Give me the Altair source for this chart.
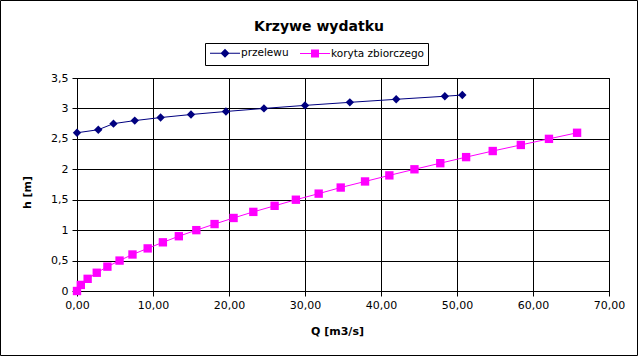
import altair as alt
import pandas as pd

FONT = "DejaVu Sans"

series_names = ["przelewu", "koryta zbiorczego"]
series_colors = ["#000080", "#ff00ff"]
series_shapes = ["diamond", "square"]
legend_paths = [
    "M-3,-0.1H3V0.1H-3ZM0,-0.9L0.9,0L0,0.9L-0.9,0Z",
    "M-3,-0.1H3V0.1H-3ZM-0.8,-0.8H0.8V0.8H-0.8Z",
]

q_przelewu = [0.0, 2.8, 4.8, 7.6, 11.0, 15.0, 19.6, 24.6, 30.0, 35.9, 42.0, 48.4, 50.7]
h_przelewu = [2.60, 2.65, 2.75, 2.80, 2.85, 2.90, 2.95, 3.00, 3.05, 3.10, 3.15, 3.20, 3.22]

q_koryta = [0.0, 0.5, 1.4, 2.6, 4.0, 5.6, 7.3, 9.3, 11.3, 13.4, 15.7, 18.1, 20.6, 23.2,
            26.0, 28.8, 31.8, 34.7, 37.9, 41.1, 44.4, 47.8, 51.2, 54.7, 58.4, 62.1, 65.8]
h_koryta = [0.0, 0.1, 0.2, 0.3, 0.4, 0.5, 0.6, 0.7, 0.8, 0.9, 1.0, 1.1, 1.2, 1.3,
            1.4, 1.5, 1.6, 1.7, 1.8, 1.9, 2.0, 2.1, 2.2, 2.3, 2.4, 2.5, 2.6]

x_ticks = [0, 10, 20, 30, 40, 50, 60, 70]
y_ticks = [0, 0.5, 1, 1.5, 2, 2.5, 3, 3.5]

rows = []
for q, h in zip(q_przelewu, h_przelewu):
    rows.append({"series": series_names[0], "Q": q, "h": h,
                 "col": series_colors[0], "shp": series_shapes[0]})
for q, h in zip(q_koryta, h_koryta):
    rows.append({"series": series_names[1], "Q": q, "h": h,
                 "col": series_colors[1], "shp": series_shapes[1]})
df = pd.DataFrame(rows)

x_enc = alt.X(
    "Q:Q",
    scale=alt.Scale(domain=[0, 70], nice=False, zero=False),
    axis=alt.Axis(
        values=x_ticks,
        labelExpr="replace(format(datum.value, '.2f'), '.', ',')",
        labelFlush=False,
        title="Q [m3/s]",
        titleX=260, titleY=40, titleBaseline="middle",
        labelPadding=3,
    ),
)
y_enc = alt.Y(
    "h:Q",
    scale=alt.Scale(domain=[0, 3.5], nice=False, zero=False),
    axis=alt.Axis(
        values=y_ticks,
        labelExpr="replace(format(datum.value, '.1~f'), '.', ',')",
        labelFlush=False,
        title="h [m]",
        titleX=-50, titleY=114, titleAngle=270, titleBaseline="middle",
        titleAlign="center",
        labelPadding=4,
    ),
)


def make_legend():
    return alt.Legend(
        title=None,
        orient="none",
        legendX=128, legendY=-35,
        direction="horizontal",
        columns=2,
        columnPadding=8,
        padding=4,
        strokeColor="black",
        fillColor="white",
        labelFont=FONT, labelFontSize=10.5, labelColor="black",
        symbolOffset=10,
        labelOffset=10,
        symbolSize=100,
        symbolOpacity=1,
    )


color_scale = alt.Scale(domain=series_names, range=series_colors)

lines = alt.Chart(df).mark_line(strokeWidth=1).encode(
    x=x_enc, y=y_enc,
    stroke=alt.Stroke("col:N", scale=None),
    detail="series:N",
    order="Q:Q",
)

points = alt.Chart(df).mark_point(filled=True, opacity=1, size=70).encode(
    x=x_enc, y=y_enc,
    fill=alt.Fill("col:N", scale=None),
    shape=alt.Shape("shp:N", scale=None),
)

legend_layer = alt.Chart(df).mark_point(
    filled=True, opacity=0, size=100
).encode(
    x=x_enc, y=y_enc,
    color=alt.Color("series:N", scale=color_scale, legend=make_legend()),
    shape=alt.Shape("series:N",
                    scale=alt.Scale(domain=series_names, range=legend_paths),
                    legend=make_legend()),
)

frame = alt.Chart(alt.Data(values=[{"a": 1}])).mark_rect(
    fill="transparent", stroke="black", strokeWidth=1
).encode(
    x=alt.value(-76.5), x2=alt.value(560.5),
    y=alt.value(-77.5), y2=alt.value(277.5),
)

chart = alt.layer(frame, lines, points, legend_layer).properties(
    width=532, height=213,
    autosize=alt.AutoSizeParams(type="none"),
    padding={"left": 77, "top": 78, "right": 30, "bottom": 66},
    title=alt.TitleParams(
        "Krzywe wydatku", font=FONT, fontSize=14, fontWeight="bold",
        anchor="middle", frame="group", dx=-24, offset=-45,
        baseline="alphabetic", color="black",
    ),
    background="white",
).configure_view(
    stroke="black", strokeWidth=1
).configure_axis(
    grid=True, gridColor="black", gridOpacity=1, gridWidth=1,
    domainColor="black", domainWidth=1,
    tickColor="black", tickSize=5, tickWidth=1,
    labelFont=FONT, labelFontSize=11, labelColor="black",
    titleFont=FONT, titleFontSize=11, titleFontWeight="bold", titleColor="black",
)

chart.save("out.html", embed_options={"renderer": "svg", "actions": False})
